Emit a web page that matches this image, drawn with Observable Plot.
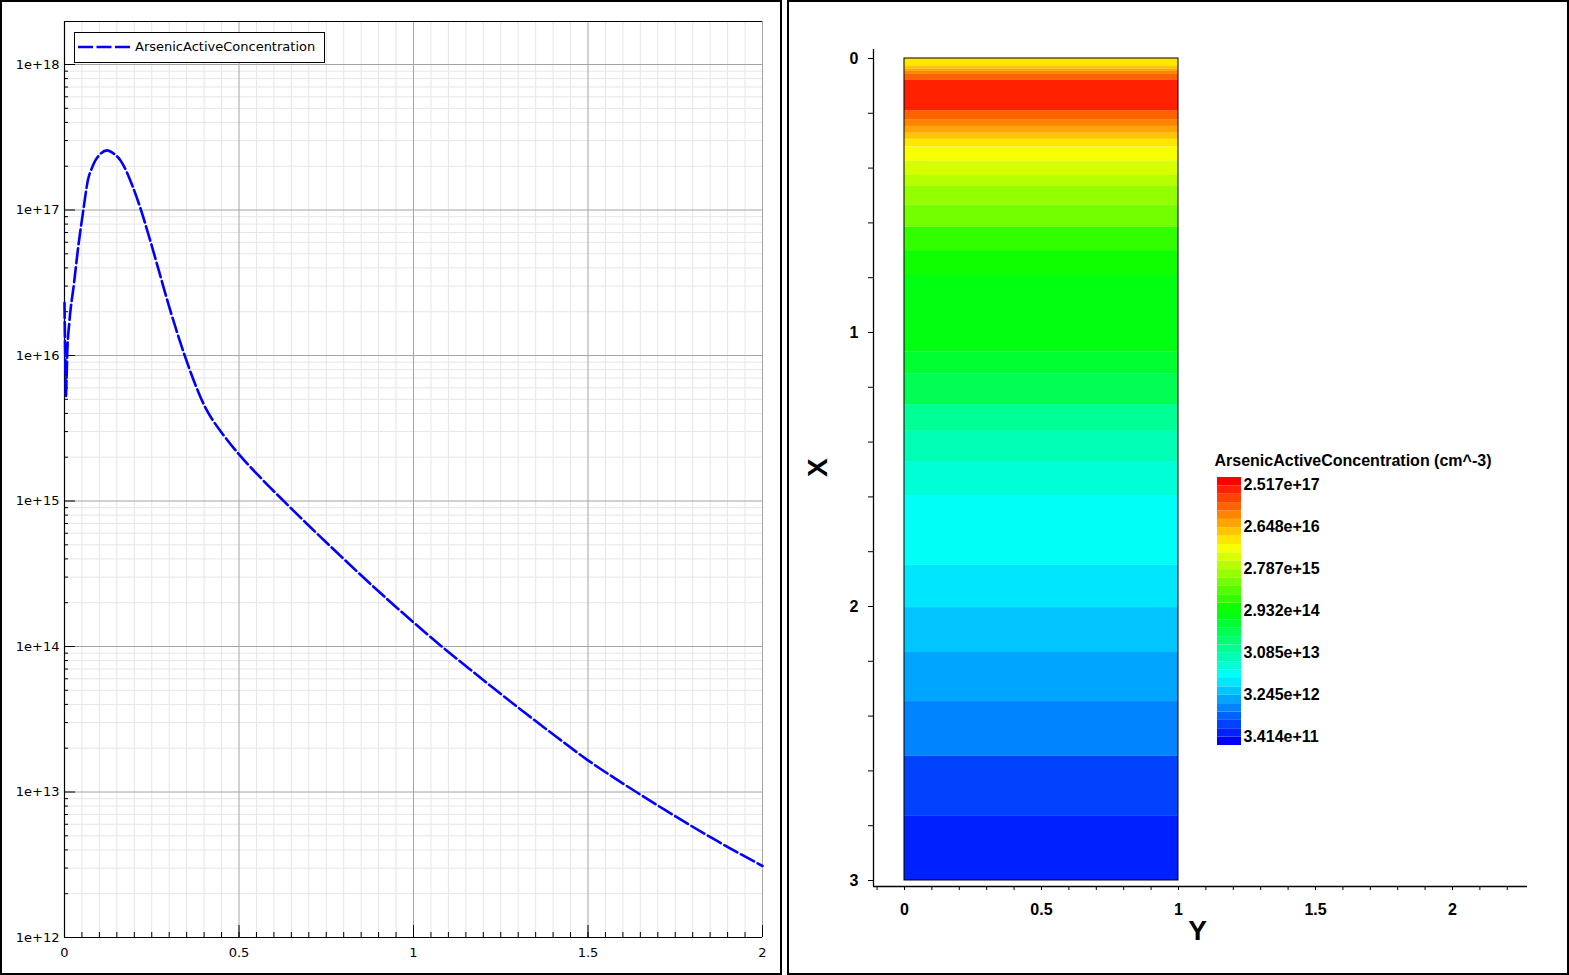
<!DOCTYPE html>
<html><head><meta charset="utf-8">
<script src="https://cdn.jsdelivr.net/npm/d3@7"></script>
<script src="https://cdn.jsdelivr.net/npm/@observablehq/plot@0.6"></script>
<style>
html,body{margin:0;padding:0;background:#fff;}
#root{position:relative;width:1569px;height:975px;overflow:hidden;background:#fff;}
.abs{position:absolute;}
.panel{position:absolute;box-sizing:border-box;border:2px solid #000;pointer-events:none;}
#lineLegend{position:absolute;left:74px;top:32px;width:251px;height:31px;box-sizing:border-box;border:1px solid #000;background:#fff;font:13px "DejaVu Sans";color:#000;}
#lineLegend svg{position:absolute;left:2px;top:9px;}
#lineLegend span{position:absolute;left:60px;top:6px;white-space:nowrap;}
</style></head><body>
<div id="root">
  <div id="left" class="abs" style="left:0;top:0;width:782px;height:975px"></div>
  <div id="right" class="abs" style="left:788px;top:0;width:780px;height:975px"></div>
  <div id="cbar" class="abs" style="left:1205px;top:445px;width:300px;height:310px"></div>
  <div id="lineLegend"><svg width="54" height="10"><line x1="1" y1="5" x2="53" y2="5" stroke="#0000ff" stroke-width="2.6" stroke-dasharray="15,3.5"/></svg><span id="lineLegendText"></span></div>
  <div class="panel" style="left:0;top:0;width:782px;height:975px"></div>
  <div class="panel" style="left:787px;top:0;width:782px;height:975px"></div>
</div>
<script>
// ---------- Left chart data (depth vs ArsenicActiveConcentration) ----------
const seriesName = "ArsenicActiveConcentration";
const curveX = [0, 0.002, 0.004, 0.006, 0.008, 0.014, 0.027, 0.039, 0.054, 0.067, 0.078, 0.089, 0.1, 0.122, 0.14, 0.16, 0.194, 0.218, 0.242, 0.266, 0.299, 0.342, 0.375, 0.404, 0.425, 0.455, 0.5, 0.557, 0.63, 0.695, 0.783, 0.856, 0.929, 1.0, 1.082, 1.155, 1.227, 1.322, 1.41, 1.5, 1.573, 1.652, 1.718, 1.791, 1.865, 1.939, 2.0];
const curveC = [2.3e16, 1.0e16, 5.2e15, 7.0e15, 1.05e16, 1.7e16, 3.1e16, 5.5e16, 1.0e17, 1.6e17, 1.93e17, 2.2e17, 2.39e17, 2.57e17, 2.45e17, 2.2e17, 1.48e17, 1.02e17, 6.6e16, 4.17e16, 2.2e16, 1.04e16, 6.3e15, 4.37e15, 3.59e15, 2.85e15, 2.09e15, 1.486e15, 9.89e14, 6.95e14, 4.37e14, 2.99e14, 2.07e14, 1.466e14, 9.95e13, 7.18e13, 5.22e13, 3.46e13, 2.39e13, 1.65e13, 1.26e13, 9.53e12, 7.59e12, 5.94e12, 4.68e12, 3.72e12, 3.10e12];
const leftXTicks = [0, 0.5, 1, 1.5, 2];
const leftXTickLabels = ["0", "0.5", "1", "1.5", "2"];
const leftYTicks = [1e12, 1e13, 1e14, 1e15, 1e16, 1e17, 1e18];
const leftYTickLabels = ["1e+12", "1e+13", "1e+14", "1e+15", "1e+16", "1e+17", "1e+18"];
const leftYDomain = [1e12, 1.975e18];
const leftXDomain = [0, 2];

// ---------- Right chart data (2D slice, X depth bands over Y in [0,1]) ----------
const colYRange = [0, 1];
const colBandEdges = [0, 0.029, 0.039, 0.047, 0.058, 0.078, 0.190, 0.223, 0.248, 0.273, 0.295, 0.323, 0.375, 0.427, 0.467, 0.536, 0.616, 0.701, 0.792, 1.072, 1.150, 1.263, 1.361, 1.471, 1.595, 1.850, 2.004, 2.168, 2.347, 2.547, 2.766, 3.0];
const colBandValues = [1.06e16, 1.62e16, 2.46e16, 3.76e16, 5.73e16, 1.33e17, 5.73e16, 3.76e16, 2.46e16, 1.62e16, 1.06e16, 6.95e15, 4.55e15, 2.99e15, 1.96e15, 1.28e15, 5.5e14, 3.6e14, 2.37e14, 1.56e14, 1.02e14, 4.38e13, 2.87e13, 1.88e13, 1.24e13, 8.1e12, 5.3e12, 3.5e12, 2.3e12, 9.8e11, 6.4e11];
const rightXTickLabelsAt = [0, 0.5, 1, 1.5, 2];
const rightXTickLabels = ["0", "0.5", "1", "1.5", "2"];
const rightYTickLabelsAt = [0, 1, 2, 3];
const rightYTickLabels = ["0", "1", "2", "3"];
const rightXDomain = [-0.1131, 2.2737];
const rightYDomain = [-0.0328, 3.0219];
const axisNameX = "X";
const axisNameY = "Y";

// ---------- Colour legend ----------
const legendTitle = "ArsenicActiveConcentration (cm^-3)";
const legendMin = 3.414e11;
const legendMax = 2.517e17;
const legendLabels = ["3.414e+11", "3.245e+12", "3.085e+13", "2.932e+14", "2.787e+15", "2.648e+16", "2.517e+17"];
const nColors = 32;

// ---------- scales ----------
const lMin = Math.log10(legendMin), lMax = Math.log10(legendMax);
const lStep = (lMax - lMin) / nColors;
const thresholds = d3.range(1, nColors).map(k => Math.pow(10, lMin + k * lStep));
const binColors = d3.range(nColors).map(i => d3.hsl(240 * (1 - i / (nColors - 1)), 1, 0.5).formatHex());
const binCenters = d3.range(nColors).map(i => Math.pow(10, lMin + (i + 0.5) * lStep));
const colorScale = {type: "threshold", domain: thresholds, range: binColors};

// ---------- Left plot ----------
const LW = 782, LH = 975, LML = 64, LMR = 20, LMT = 21, LMB = 38;
const plotW = LW - LML - LMR, plotH = LH - LMT - LMB;
const curve = curveX.map((x, i) => ({x, c: curveC[i]}));
const xMinor = d3.range(1, 40).map(i => i / 20).filter(v => !leftXTicks.includes(v));
const xAllTicks = d3.range(1, 40).map(i => i / 20);
const yMinor = [];
for (let e = 12; e <= 18; e++) for (let m = 2; m <= 9; m++) { const v = m * Math.pow(10, e); if (v < leftYDomain[1]) yMinor.push(v); }
document.getElementById("lineLegendText").textContent = seriesName;

const leftPlot = Plot.plot({
  width: LW, height: LH,
  marginLeft: LML, marginRight: LMR, marginTop: LMT, marginBottom: LMB,
  x: {domain: leftXDomain, label: null},
  y: {type: "log", domain: leftYDomain, label: null},
  style: {fontFamily: "DejaVu Sans", fontSize: "13px", color: "#000", background: "transparent"},
  marks: [
    Plot.ruleX(xMinor, {stroke: "#e6e6e6", strokeWidth: 1}),
    Plot.ruleY(yMinor, {stroke: "#e6e6e6", strokeWidth: 1}),
    Plot.ruleX(leftXTicks.slice(1), {stroke: "#a4a4a4", strokeWidth: 1}),
    Plot.ruleY(leftYTicks, {stroke: "#a4a4a4", strokeWidth: 1}),
    Plot.tickY(yMinor, {insetRight: plotW - 4, stroke: "#000"}),
    Plot.tickY(leftYTicks, {insetRight: plotW - 11, stroke: "#000"}),
    Plot.tickX(xAllTicks, {insetTop: plotH - 5, stroke: "#000"}),
    Plot.tickX(leftXTicks, {insetTop: plotH - 12, stroke: "#000"}),
    Plot.ruleX([leftXDomain[0]], {stroke: "#000", strokeWidth: 1.2}),
    Plot.ruleY([leftYDomain[0]], {stroke: "#000", strokeWidth: 1.2}),
    Plot.ruleY([leftYDomain[1]], {stroke: "#000", strokeWidth: 1.2}),
    Plot.axisY({ticks: leftYTicks, tickSize: 0, tickPadding: 5, label: null, tickFormat: d => leftYTickLabels[leftYTicks.indexOf(d)]}),
    Plot.axisX({ticks: leftXTicks, tickSize: 0, tickPadding: 10, label: null, tickFormat: d => leftXTickLabels[leftXTicks.indexOf(d)]}),
    Plot.line(curve, {x: "x", y: "c", stroke: "#0000ff", strokeWidth: 2.6, strokeDasharray: "15,4", curve: "monotone-x"})
  ]
});
document.getElementById("left").appendChild(leftPlot);

// ---------- Right plot ----------
const bands = colBandValues.map((v, i) => ({x0: colBandEdges[i], x1: colBandEdges[i + 1], c: v}));
const rxTicks = d3.range(-1, 23).map(i => i / 10);
const ryTicks = d3.range(0, 16).map(i => i / 5);
const rightPlot = Plot.plot({
  width: 780, height: LH,
  marginLeft: 85, marginRight: 41, marginTop: 49, marginBottom: 89,
  x: {domain: rightXDomain, label: null},
  y: {domain: rightYDomain, reverse: true, label: null},
  color: colorScale,
  style: {fontFamily: "Liberation Sans, Arial, sans-serif", fontSize: "16px", fontWeight: "bold", color: "#000", background: "transparent"},
  marks: [
    Plot.rect(bands, {x1: colYRange[0], x2: colYRange[1], y1: "x0", y2: "x1", fill: "c"}),
    Plot.rect([0], {x1: colYRange[0], x2: colYRange[1], y1: colBandEdges[0], y2: colBandEdges[colBandEdges.length - 1], fill: "none", stroke: "#000", strokeWidth: 1}),
    Plot.ruleX([rightXDomain[0]], {stroke: "#000", strokeWidth: 1.3}),
    Plot.ruleY([rightYDomain[1]], {stroke: "#000", strokeWidth: 1.3}),
    Plot.axisX({ticks: rxTicks, tickSize: 4, tickPadding: 13, label: null, tickFormat: d => { const k = rightXTickLabelsAt.findIndex(v => Math.abs(v - d) < 1e-9); return k >= 0 ? rightXTickLabels[k] : ""; }}),
    Plot.axisY({ticks: ryTicks, tickSize: 5, tickPadding: 10, label: null, tickFormat: d => { const k = rightYTickLabelsAt.findIndex(v => Math.abs(v - d) < 1e-9); return k >= 0 ? rightYTickLabels[k] : ""; }}),
    Plot.text([axisNameX], {frameAnchor: "left", dx: -55, dy: 9, rotate: -90, fontSize: 28, fontWeight: "bold"}),
    Plot.text([axisNameY], {frameAnchor: "bottom", dx: -3, dy: 53, fontSize: 28, fontWeight: "bold"})
  ]
});
document.getElementById("right").appendChild(rightPlot);

// ---------- Colour bar ----------
const cbarPlot = Plot.plot({
  width: 300, height: 310,
  marginTop: 32, marginBottom: 10, marginLeft: 0, marginRight: 0,
  x: {domain: [0, 1], range: [12, 36], axis: null},
  y: {domain: [0, nColors], axis: null},
  color: colorScale,
  style: {fontFamily: "Liberation Sans, Arial, sans-serif", fontSize: "16px", fontWeight: "bold", color: "#000", background: "transparent"},
  marks: [
    Plot.rect(binCenters, {x1: 0, x2: 1, y1: (d, i) => i, y2: (d, i) => i + 1, fill: d => d}),
    Plot.text(legendLabels, {x: 1, y: (d, i) => 1.075 + i * (nColors - 1.9) / (legendLabels.length - 1), text: d => d, textAnchor: "start", dx: 2}),
    Plot.text([legendTitle], {frameAnchor: "top-left", dx: 9, dy: -23, textAnchor: "start"})
  ]
});
document.getElementById("cbar").appendChild(cbarPlot);
</script>
</body></html>
